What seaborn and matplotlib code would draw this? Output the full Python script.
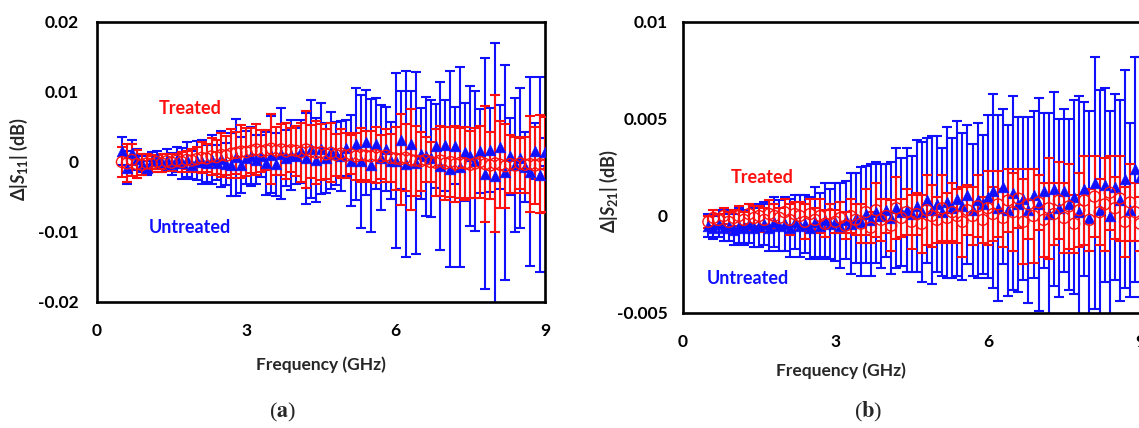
import numpy as np
import matplotlib
matplotlib.use('Agg')
import matplotlib.pyplot as plt
import seaborn as sns

# frequency sweep (GHz), one point every 0.1 GHz
freq = np.linspace(0.5, 9.0, 86)

# panel (a): delta |S11| in units of 1e-3 dB
s11_untreated = [1.5, -0.8, 1.3, 0.4, -0.3, -0.8, 0.2, 0.5, -0.2, 0.3,
                 -0.3, 0.4, -0.2, 0.3, -0.4, 0.2, 0.0, -0.2, 0.3, -0.1,
                 0.4, -0.3, -0.4, 0.7, -0.5, 0.6, 0.8, 0.3, 0.9, -0.2,
                 1.0, -0.3, 1.2, 0.6, 1.0, 0.8, 1.5, 0.5, 1.8, 0.3,
                 1.9, 0.5, 1.6, 1.2, 0.8, 2.0, 0.2, 2.5, 0.1, 2.8,
                 -0.5, 2.6, 0.6, 1.8, 0.2, 0.2, 3.1, -0.3, 2.6, -0.2,
                 1.2, 0.8, 0.5, 2.3, -0.6, 2.4, -1.0, 2.3, -0.7, 1.4,
                 0.8, 0.2, 1.6, -1.7, 1.7, -2.0, 2.2, -1.5, 0.8, -0.4,
                 0.6, -0.7, -1.4, 1.5, -1.8, 1.4]
s11_untreated_err = [2.0, 2.3, 1.8, 1.5, 1.2, 1.0, 1.2, 1.0, 1.3, 1.5,
                     1.6, 1.8, 2.2, 2.5, 2.0, 2.8, 3.2, 2.6, 3.5, 2.5,
                     4.0, 3.0, 4.5, 5.5, 4.0, 3.8, 4.2, 3.5, 3.0, 4.5,
                     5.5, 4.5, 6.5, 4.0, 5.0, 4.0, 4.5, 6.5, 7.0, 6.0,
                     6.5, 5.0, 5.5, 4.5, 5.0, 4.0, 6.5, 8.0, 9.5, 7.5,
                     9.5, 6.5, 7.5, 6.0, 5.5, 12.5, 7.0, 13.3, 7.5, 13.0,
                     6.5, 8.5, 8.4, 6.0, 12.0, 6.5, 14.0, 5.5, 14.3, 7.0,
                     10.0, 10.0, 6.0, 16.5, 6.0, 19.0, 6.0, 15.4, 5.5, 9.6,
                     10.0, 5.0, 13.5, 4.0, 13.9, 2.0]
s11_treated = [0.0, -0.2, 0.3, -0.3, -0.4, -0.2, -0.3, 0.0, -0.2, 0.1,
               -0.1, 0.2, 0.0, 0.3, 0.2, 0.4, 0.6, 0.5, 0.8, 0.7,
               1.0, 0.9, 1.2, 1.3, 1.5, 1.4, 1.6, 1.8, 1.5, 1.7,
               1.9, 1.6, 1.8, 1.5, 1.7, 1.6, 1.4, 1.8, 1.5, 1.3,
               1.4, 1.1, 1.3, 1.0, 1.2, 0.9, 1.1, 0.8, 1.0, 0.9,
               0.8, 1.0, 0.7, 0.9, 0.6, 0.5, 0.4, 0.6, 0.3, 0.2,
               0.1, 0.3, 0.0, -0.1, 0.2, -0.2, 0.0, -0.3, -0.1, -0.2,
               -0.4, -0.2, 0.0, -0.3, -0.5, -0.2, -0.4, -0.6, -0.3, -0.5,
               -0.2, -0.4, -0.3, -0.5, -0.3, -0.4]
s11_treated_err = [2.2, 2.7, 2.3, 2.0, 1.5, 1.4, 1.2, 1.0, 1.3, 1.1,
                   1.2, 1.0, 1.4, 1.3, 1.6, 1.8, 2.2, 2.0, 2.6, 2.4,
                   3.2, 2.8, 3.5, 3.0, 3.8, 3.4, 3.2, 3.6, 3.0, 2.8,
                   5.0, 3.4, 3.6, 4.0, 3.2, 3.6, 4.2, 5.5, 3.8, 4.5,
                   4.0, 3.6, 4.2, 3.0, 3.5, 3.2, 2.8, 3.4, 3.8, 3.5,
                   3.6, 4.0, 3.2, 3.8, 3.4, 4.5, 6.5, 4.8, 7.2, 5.0,
                   4.2, 3.2, 2.8, 4.8, 5.0, 5.2, 5.0, 5.4, 5.0, 5.2,
                   4.8, 5.0, 5.2, 8.3, 4.8, 9.8, 6.2, 6.0, 4.2, 4.0,
                   3.6, 4.0, 6.8, 5.5, 7.0, 6.8]

# panel (b): delta |S21| in units of 1e-3 dB
s21_untreated = [-0.5, -0.6, -0.4, -0.6, -0.5, -0.7, -0.5, -0.6, -0.4, -0.6,
                 -0.5, -0.4, -0.6, -0.3, -0.5, -0.4, -0.6, -0.3, -0.5, -0.4,
                 -0.6, -0.3, -0.5, -0.2, -0.4, -0.3, -0.5, -0.2, -0.4, -0.1,
                 -0.3, 0.1, -0.2, 0.2, 0.0, 0.3, -0.1, 0.4, 0.2, 0.3,
                 0.1, 0.5, 0.2, 0.8, 0.3, 0.6, 0.2, 0.7, 0.4, 0.9,
                 0.5, 1.1, 0.3, 0.8, 0.6, 1.0, 1.3, 0.4, 1.5, 0.3,
                 1.2, 0.6, 0.9, 0.3, 1.1, 0.6, 1.3, 0.1, 1.4, 0.4,
                 1.3, 0.6, 1.0, 0.2, 1.4, -0.1, 1.7, 0.3, 1.6, 0.0,
                 1.5, 0.8, 1.9, 0.3, 2.4, 2.0]
s21_untreated_err = [0.6, 0.6, 0.7, 0.7, 0.8, 0.8, 0.9, 0.9, 1.0, 1.0,
                     1.1, 1.1, 1.2, 1.3, 1.3, 1.4, 1.5, 1.4, 1.6, 1.5,
                     1.6, 1.8, 1.7, 1.9, 1.8, 2.0, 2.2, 2.0, 2.6, 2.3,
                     2.8, 2.5, 2.9, 2.6, 2.7, 2.4, 2.9, 3.1, 2.8, 3.2,
                     3.0, 3.4, 3.6, 3.2, 3.8, 3.5, 3.3, 3.9, 3.6, 4.0,
                     3.8, 3.6, 3.4, 4.0, 3.6, 4.2, 5.0, 4.8, 4.0, 4.4,
                     5.0, 4.5, 4.2, 4.8, 4.3, 5.5, 4.0, 5.2, 5.0, 4.6,
                     4.2, 4.4, 5.0, 6.0, 4.5, 5.5, 6.5, 6.2, 5.0, 5.4,
                     4.8, 5.2, 5.6, 4.5, 5.8, 6.2]
s21_treated = [-0.3, -0.1, -0.2, 0.0, -0.3, -0.1, 0.0, -0.2, 0.1, -0.1,
               0.0, -0.2, 0.1, 0.0, -0.1, 0.2, -0.2, 0.1, 0.0, -0.3,
               0.1, -0.2, 0.0, -0.4, 0.1, -0.3, -0.1, -0.5, 0.0, -0.2,
               -0.4, 0.2, -0.6, 0.3, -0.2, 0.0, -0.5, 0.4, -0.1, 0.2,
               -0.3, 0.1, -0.4, 0.3, 0.0, -0.2, 0.4, -0.1, 0.2, 0.0,
               -0.3, 0.3, 0.0, 0.5, -0.2, 0.4, 0.1, 0.6, -0.1, 0.8,
               0.2, 0.9, -0.3, 0.6, 0.0, 0.7, -0.2, 0.4, 0.1, 0.8,
               -0.1, 0.5, -0.4, 0.3, 0.8, -0.2, 1.0, 0.2, 0.6, 1.2,
               0.4, 0.9, -0.3, 0.7, 0.2, -0.4]
s21_treated_err = [0.3, 0.4, 0.3, 0.4, 0.5, 0.4, 0.5, 0.4, 0.5, 0.6,
                   0.5, 0.6, 0.7, 0.6, 0.5, 0.7, 0.8, 0.6, 0.7, 0.9,
                   0.8, 0.6, 0.9, 0.7, 0.5, 0.6, 0.8, 0.7, 0.9, 0.8,
                   1.0, 1.2, 0.8, 1.4, 1.1, 0.9, 1.3, 1.6, 1.0, 1.2,
                   1.4, 1.1, 1.5, 1.8, 1.6, 1.2, 1.7, 1.3, 1.5, 1.4,
                   1.8, 1.3, 1.5, 1.6, 1.2, 1.9, 1.4, 1.7, 1.5, 1.6,
                   2.0, 1.5, 2.2, 1.8, 2.4, 1.4, 1.9, 2.6, 1.6, 2.0,
                   1.8, 2.2, 1.5, 1.9, 2.3, 1.6, 2.1, 1.7, 2.4, 1.9,
                   1.6, 2.2, 1.8, 2.0, 1.5, 1.4]

x_ticks = [0, 3, 6, 9]
yticks_a = [-0.02, -0.01, 0, 0.01, 0.02]
ytick_labels_a = ["-0.02", "-0.01", "0", "0.01", "0.02"]
yticks_b = [-0.005, 0, 0.005, 0.01]
ytick_labels_b = ["-0.005", "0", "0.005", "0.01"]

sns.set_theme(style="white")
plt.rcParams['font.family'] = ['Lato', 'DejaVu Sans']
plt.rcParams['font.weight'] = 'bold'
plt.rcParams['mathtext.fontset'] = 'custom'
plt.rcParams['mathtext.rm'] = 'Lato:bold'
plt.rcParams['mathtext.it'] = 'Lato:italic:bold'
plt.rcParams['mathtext.bf'] = 'Lato:bold'

BLUE = "#1010ff"
RED = "#ff1010"

fig = plt.figure(figsize=(11.39, 4.28), dpi=100)
ax_a = fig.add_axes([0.0852, 0.2944, 0.3933, 0.6542])
ax_b = fig.add_axes([0.5996, 0.2687, 0.4015, 0.6799])


def draw_panel(ax, unt, unt_err, trt, trt_err, ypad):
    unt = np.array(unt) * 1e-3
    unt_err = np.array(unt_err) * 1e-3
    trt = np.array(trt) * 1e-3
    trt_err = np.array(trt_err) * 1e-3
    ax.errorbar(freq, unt, yerr=unt_err, fmt='none', ecolor=BLUE,
                elinewidth=1.5, capsize=3.4, capthick=1.5, zorder=2)
    ax.errorbar(freq, trt, yerr=trt_err, fmt='none', ecolor=RED,
                elinewidth=1.5, capsize=3.4, capthick=1.5, zorder=3)
    sns.scatterplot(x=freq, y=unt, ax=ax, marker='^', s=58, color=BLUE,
                    edgecolor=BLUE, linewidth=0.5, zorder=4)
    sns.scatterplot(x=freq, y=trt, ax=ax, marker='o', s=62, facecolor='none',
                    edgecolor=RED, linewidth=1.0, zorder=5)
    ax.set_xlim(0, 9)
    ax.set_xticks(x_ticks)
    ax.set_xticklabels([str(t) for t in x_ticks])
    for sp in ax.spines.values():
        sp.set_visible(True)
        sp.set_color('black')
        sp.set_linewidth(1.9)
    ax.tick_params(axis='both', direction='in', length=5, width=1.9,
                   labelsize=12.5, colors='black')
    ax.tick_params(axis='x', pad=15)
    ax.tick_params(axis='y', pad=ypad)
    ax.grid(False)


draw_panel(ax_a, s11_untreated, s11_untreated_err, s11_treated, s11_treated_err, 13)
ax_a.set_ylim(-0.02, 0.02)
ax_a.set_yticks(yticks_a)
ax_a.set_yticklabels(ytick_labels_a)
ax_a.set_xlabel("Frequency (GHz)", fontsize=12.5, fontweight='bold')
ax_a.xaxis.set_label_coords(0.5, -0.195)
ax_a.set_ylabel(r'Δ|$\mathit{S}_{\mathrm{11}}$| (dB)', fontsize=13, fontweight='bold')
ax_a.yaxis.set_label_coords(-0.15, 0.51)
ax_a.text(1.87, 0.0077, "Treated", color=RED, fontsize=13, fontweight='bold',
          ha='center', va='center')
ax_a.text(1.87, -0.0094, "Untreated", color=BLUE, fontsize=13, fontweight='bold',
          ha='center', va='center')

draw_panel(ax_b, s21_untreated, s21_untreated_err, s21_treated, s21_treated_err, 11)
ax_b.set_ylim(-0.005, 0.01)
ax_b.set_yticks(yticks_b)
ax_b.set_yticklabels(ytick_labels_b)
ax_b.set_xlabel("Frequency (GHz)", fontsize=12.5, fontweight='bold')
ax_b.xaxis.set_label_coords(0.346, -0.17)
ax_b.set_ylabel(r'Δ|$\mathit{S}_{\mathrm{21}}$| (dB)', fontsize=13, fontweight='bold')
ax_b.yaxis.set_label_coords(-0.137, 0.42)
ax_b.text(1.56, 0.0020, "Treated", color=RED, fontsize=13, fontweight='bold',
          ha='center', va='center')
ax_b.text(1.28, -0.0032, "Untreated", color=BLUE, fontsize=13, fontweight='bold',
          ha='center', va='center')

fig.text(283 / 1139, 1 - 412 / 428, r'($\mathbf{a}$)', fontsize=16,
         family='Liberation Serif', fontweight='normal', math_fontfamily='stix',
         ha='center', va='center')
fig.text(868 / 1139, 1 - 412 / 428, r'($\mathbf{b}$)', fontsize=16,
         family='Liberation Serif', fontweight='normal', math_fontfamily='stix',
         ha='center', va='center')

fig.savefig("out.png", dpi=100)
